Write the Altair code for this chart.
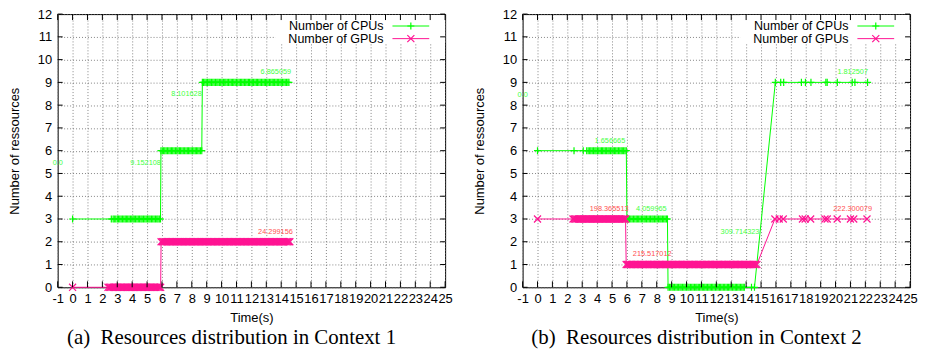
import altair as alt
import pandas as pd

# ---------------- data ----------------
x_ticks = list(range(-1, 26))
y_ticks = list(range(0, 13))
series_names = ["CPU", "GPU"]
legend_names = ["Number of CPUs", "Number of GPUs"]

# Context 1 -- CPUs (level, time stamps)
c1_cpu_levels = [3, 6, 9]
c1_cpu_times = [
    [0.0, 2.6, 2.72, 2.8, 2.9, 3.0, 3.08, 3.17, 3.26, 3.35, 3.44, 3.53, 3.61, 3.7, 3.79, 3.88,
     3.97, 4.06, 4.14, 4.23, 4.32, 4.41, 4.5, 4.59, 4.67, 4.76, 4.85, 4.94, 5.03, 5.12, 5.2,
     5.29, 5.38, 5.47, 5.56, 5.65, 5.73, 5.82, 5.9],
    [5.93, 6.02, 6.11, 6.19, 6.28, 6.37, 6.46, 6.55, 6.64, 6.72, 6.81, 6.9, 6.99, 7.08, 7.17,
     7.25, 7.34, 7.43, 7.52, 7.61, 7.7, 7.78, 7.87, 7.96, 8.05, 8.14, 8.23, 8.31, 8.4, 8.49,
     8.58, 8.67],
    [8.71, 8.79, 8.88, 8.97, 9.06, 9.15, 9.23, 9.32, 9.41, 9.5, 9.59, 9.68, 9.76, 9.85, 9.94,
     10.03, 10.12, 10.21, 10.29, 10.38, 10.47, 10.56, 10.65, 10.74, 10.82, 10.91, 11.0, 11.09,
     11.18, 11.27, 11.35, 11.44, 11.53, 11.62, 11.71, 11.8, 11.88, 11.97, 12.06, 12.15, 12.24,
     12.33, 12.41, 12.5, 12.59, 12.68, 12.77, 12.86, 12.94, 13.03, 13.12, 13.21, 13.3, 13.39,
     13.47, 13.56, 13.65, 13.74, 13.83, 13.92, 14.0, 14.09, 14.18, 14.27, 14.36, 14.45, 14.52],
]
# Context 1 -- GPUs
c1_gpu_levels = [0, 2]
c1_gpu_times = [
    [0.0, 2.38, 2.47, 2.56, 2.65, 2.74, 2.83, 2.91, 3.0, 3.09, 3.18, 3.27, 3.36, 3.44, 3.53,
     3.62, 3.71, 3.8, 3.89, 3.97, 4.06, 4.15, 4.24, 4.33, 4.42, 4.5, 4.59, 4.68, 4.77, 4.86,
     4.95, 5.03, 5.12, 5.21, 5.3, 5.39, 5.48, 5.56, 5.65, 5.74, 5.83, 5.91],
    [5.94, 6.03, 6.12, 6.2, 6.29, 6.38, 6.47, 6.56, 6.65, 6.73, 6.82, 6.91, 7.0, 7.09, 7.18,
     7.26, 7.35, 7.44, 7.53, 7.62, 7.71, 7.79, 7.88, 7.97, 8.06, 8.15, 8.24, 8.32, 8.41, 8.5,
     8.59, 8.68, 8.77, 8.85, 8.94, 9.03, 9.12, 9.21, 9.3, 9.38, 9.47, 9.56, 9.65, 9.74, 9.83,
     9.91, 10.0, 10.09, 10.18, 10.27, 10.36, 10.44, 10.53, 10.62, 10.71, 10.8, 10.89, 10.97,
     11.06, 11.15, 11.24, 11.33, 11.42, 11.5, 11.59, 11.68, 11.77, 11.86, 11.95, 12.03, 12.12,
     12.21, 12.3, 12.39, 12.48, 12.56, 12.65, 12.74, 12.83, 12.92, 13.01, 13.09, 13.18, 13.27,
     13.36, 13.45, 13.54, 13.62, 13.71, 13.8, 13.89, 13.98, 14.07, 14.15, 14.24, 14.33, 14.42,
     14.51, 14.58],
]
# Context 2 -- CPUs
c2_cpu_levels = [6, 3, 0, 9]
c2_cpu_times = [
    [0.0, 2.45, 3.07, 3.3, 3.4, 3.5, 3.58, 3.67, 3.76, 3.85, 3.93, 4.02, 4.11, 4.2, 4.29, 4.37,
     4.46, 4.55, 4.64, 4.73, 4.81, 4.9, 4.99, 5.08, 5.17, 5.25, 5.34, 5.43, 5.52, 5.61, 5.69,
     5.78, 5.87, 5.96],
    [6.0, 6.09, 6.17, 6.26, 6.35, 6.44, 6.53, 6.62, 6.7, 6.79, 6.88, 6.97, 7.06, 7.15, 7.23,
     7.32, 7.41, 7.5, 7.59, 7.68, 7.76, 7.85, 7.94, 8.03, 8.12, 8.21, 8.29, 8.38, 8.47, 8.56,
     8.65, 8.72],
    [8.76, 8.85, 8.94, 9.03, 9.11, 9.2, 9.29, 9.38, 9.47, 9.56, 9.64, 9.73, 9.82, 9.91, 10.0,
     10.09, 10.17, 10.26, 10.35, 10.44, 10.53, 10.62, 10.7, 10.79, 10.88, 10.97, 11.06, 11.15,
     11.23, 11.32, 11.41, 11.5, 11.59, 11.68, 11.76, 11.85, 11.94, 12.03, 12.12, 12.21, 12.29,
     12.38, 12.47, 12.56, 12.65, 12.74, 12.82, 12.91, 13.0, 13.09, 13.18, 13.27, 13.35, 13.44,
     13.53, 13.62, 13.71, 13.8, 13.88, 14.36, 14.56],
    [15.96, 16.32, 16.52, 17.71, 17.98, 18.35, 19.35, 19.44, 20.12, 21.12, 21.3, 22.15],
]
# Context 2 -- GPUs
c2_gpu_levels = [3, 1, 3]
c2_gpu_times = [
    [0.0, 2.38, 2.47, 2.56, 2.65, 2.74, 2.83, 2.91, 3.0, 3.09, 3.18, 3.27, 3.36, 3.44, 3.53,
     3.62, 3.71, 3.8, 3.89, 3.97, 4.06, 4.15, 4.24, 4.33, 4.42, 4.5, 4.59, 4.68, 4.77, 4.86,
     4.95, 5.03, 5.12, 5.21, 5.3, 5.39, 5.48, 5.56, 5.65, 5.74, 5.83, 5.91],
    [5.95, 6.04, 6.13, 6.21, 6.3, 6.39, 6.48, 6.57, 6.66, 6.74, 6.83, 6.92, 7.01, 7.1, 7.19,
     7.27, 7.36, 7.45, 7.54, 7.63, 7.72, 7.8, 7.89, 7.98, 8.07, 8.16, 8.25, 8.33, 8.42, 8.51,
     8.6, 8.69, 8.78, 8.86, 8.95, 9.04, 9.13, 9.22, 9.31, 9.39, 9.48, 9.57, 9.66, 9.75, 9.84,
     9.92, 10.01, 10.1, 10.19, 10.28, 10.37, 10.45, 10.54, 10.63, 10.72, 10.81, 10.9, 10.98,
     11.07, 11.16, 11.25, 11.34, 11.43, 11.51, 11.6, 11.69, 11.78, 11.87, 11.96, 12.04, 12.13,
     12.22, 12.31, 12.4, 12.49, 12.57, 12.66, 12.75, 12.84, 12.93, 13.02, 13.1, 13.19, 13.28,
     13.37, 13.46, 13.55, 13.63, 13.72, 13.81, 13.9, 13.99, 14.08, 14.16, 14.25, 14.34, 14.43,
     14.52, 14.61, 14.72],
    [15.93, 16.22, 16.49, 17.78, 17.96, 18.33, 19.29, 19.44, 20.11, 21.0, 21.22, 22.11],
]

# value labels printed on the plots
c1_label_text = ["0.0", "9.152108", "8.101628", "6.865059", "24.299156"]
c1_label_t = [-0.65, 5.93, 8.67, 14.67, 14.78]
c1_label_v = [5.45, 5.45, 8.47, 9.47, 2.41]
c1_label_series = ["CPU", "CPU", "CPU", "CPU", "GPU"]

c2_label_text = ["0.0", "1.656665", "1.812507", "198.365513", "4.059965",
                 "215.517012", "309.714323", "222.300079"]
c2_label_t = [-0.65, 5.89, 22.18, 6.11, 8.67, 9.0, 14.89, 22.45]
c2_label_v = [8.45, 6.44, 9.47, 3.43, 3.43, 1.47, 2.44, 3.43]
c2_label_series = ["CPU", "CPU", "CPU", "GPU", "CPU", "GPU", "CPU", "GPU"]

captions = ["(a)\u00a0 Resources distribution in Context 1",
            "(b)\u00a0 Resources distribution in Context 2"]


def build_points(levels, times, series):
    rows = []
    for lv, ts in zip(levels, times):
        for t in ts:
            rows.append({"t": t, "v": lv, "series": series})
    return rows


# ---------------- style ----------------
GREEN = "#00ff00"
PINK = "#ff1493"
LBL_GREEN = "#44ff44"
LBL_RED = "#ff5050"
PLUS = "M-1,0L1,0M0,-1L0,1"
CROSS = "M-1,-1L1,1M-1,1L1,-1"
FONT = "Liberation Sans"
W, H = 390, 275

xs = alt.Scale(domain=[-1, 25], nice=False, zero=False)
ys = alt.Scale(domain=[0, 12], nice=False, zero=False)
X = alt.X("t:Q", scale=xs, axis=alt.Axis(
    values=x_ticks, title="Time(s)", labelOverlap=False, labelFlush=False,
    ticks=False, domain=False, labelPadding=5, titlePadding=6,
    labelExpr="'' + datum.value"))
Y = alt.Y("v:Q", scale=ys, axis=alt.Axis(
    values=y_ticks, title="Number of ressources", labelOverlap=False, labelFlush=False,
    ticks=False, domain=False, labelPadding=6, titlePadding=16,
    labelExpr="'' + datum.value"))
color = alt.Color("series:N", scale=alt.Scale(domain=series_names, range=[GREEN, PINK]),
                  legend=None)
shape = alt.Shape("series:N", scale=alt.Scale(domain=series_names, range=[PLUS, CROSS]),
                  legend=None)


def panel(levels_cpu, times_cpu, levels_gpu, times_gpu, lab_text, lab_t, lab_v, lab_s, caption):
    pts = pd.DataFrame(build_points(levels_cpu, times_cpu, "CPU") +
                       build_points(levels_gpu, times_gpu, "GPU"))
    labs = pd.DataFrame({"t": lab_t, "v": lab_v, "text": lab_text, "series": lab_s})
    one = pd.DataFrame({"k": [0]})
    xt = pd.DataFrame({"t": x_ticks})
    yt = pd.DataFrame({"v": y_ticks})

    box = alt.Chart(one).mark_rect(color="white").encode(
        x=alt.value(219), x2=alt.value(W), y=alt.value(1), y2=alt.value(29))
    lines = alt.Chart(pts).mark_line(strokeWidth=1).encode(x=X, y=Y, color=color)
    points = alt.Chart(pts).mark_point(filled=False, size=50, strokeWidth=1.2, opacity=1).encode(
        x=X, y=Y, color=color, shape=shape)
    txt_cpu = alt.Chart(labs).transform_filter(alt.datum.series == "CPU").mark_text(
        align="right", baseline="middle", fontSize=7.4, font=FONT, color=LBL_GREEN).encode(
        x=X, y=Y, text="text:N")
    txt_gpu = alt.Chart(labs).transform_filter(alt.datum.series == "GPU").mark_text(
        align="right", baseline="middle", fontSize=7.4, font=FONT, color=LBL_RED).encode(
        x=X, y=Y, text="text:N")
    tb = alt.Chart(xt).mark_rule(color="black", strokeWidth=1).encode(
        x=X, y=alt.value(H), y2=alt.value(H - 6))
    tt = alt.Chart(xt).mark_rule(color="black", strokeWidth=1).encode(
        x=X, y=alt.value(0), y2=alt.value(6))
    tl = alt.Chart(yt).mark_rule(color="black", strokeWidth=1).encode(
        y=Y, x=alt.value(0), x2=alt.value(5))
    tr = alt.Chart(yt).mark_rule(color="black", strokeWidth=1).encode(
        y=Y, x=alt.value(W), x2=alt.value(W - 5))

    layers = [box, lines, points, txt_cpu, txt_gpu, tb, tt, tl, tr]
    for i, (name, col, shp) in enumerate(zip(legend_names, [GREEN, PINK], [PLUS, CROSS])):
        row = pd.DataFrame({"name": [name]})
        yy = 12 + 12.7 * i
        layers.append(alt.Chart(row).mark_text(align="right", baseline="middle",
                                               fontSize=12.6, font=FONT, color="black").encode(
            text="name:N", x=alt.value(328), y=alt.value(yy)))
        layers.append(alt.Chart(row).mark_rule(color=col, strokeWidth=1).encode(
            x=alt.value(337), x2=alt.value(374), y=alt.value(yy)))
        layers.append(alt.Chart(row).mark_point(filled=False, size=50, strokeWidth=1.2,
                                                opacity=1, color=col).encode(
            x=alt.value(355.5), y=alt.value(yy), shape=alt.value(shp)))

    return alt.layer(*layers).properties(
        width=W, height=H,
        title=alt.TitleParams(text=caption, orient="bottom", anchor="middle",
                              font="Liberation Serif", fontSize=21, fontWeight="normal",
                              color="black", dx=-20, offset=3))


pa = panel(c1_cpu_levels, c1_cpu_times, c1_gpu_levels, c1_gpu_times,
           c1_label_text, c1_label_t, c1_label_v, c1_label_series, captions[0])
pb = panel(c2_cpu_levels, c2_cpu_times, c2_gpu_levels, c2_gpu_times,
           c2_label_text, c2_label_t, c2_label_v, c2_label_series, captions[1])

chart = alt.hconcat(pa, pb, spacing=20).properties(
    padding={"left": 0, "top": -2, "right": 0, "bottom": 0}
).configure_view(stroke="black", strokeWidth=1).configure_axis(
    labelFont=FONT, labelFontSize=13, labelColor="black",
    titleFont=FONT, titleFontSize=13, titleFontWeight="normal", titleColor="black",
    grid=True, gridColor="#666666", gridDash=[1, 2], gridWidth=0.8, gridOpacity=1
)

chart.save("out.html", embed_options={"renderer": "svg", "actions": False})
